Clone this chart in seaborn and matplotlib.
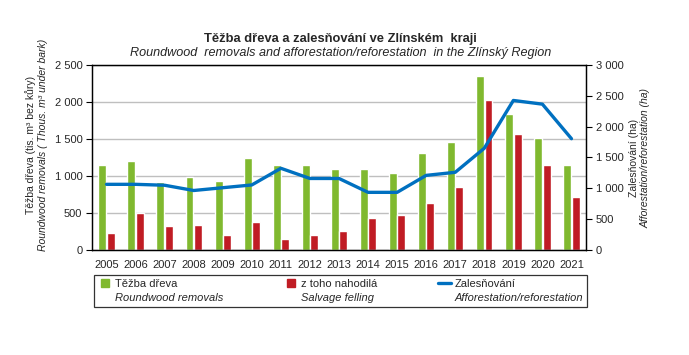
import matplotlib
matplotlib.use('Agg')
import numpy as np
import pandas as pd
import seaborn as sns
import matplotlib.pyplot as plt
from matplotlib.lines import Line2D
from matplotlib.ticker import MultipleLocator, FuncFormatter

years = [str(y) for y in range(2005, 2022)]
# roundwood removals, thous. m3 under bark
removals = [1150, 1200, 920, 985, 930, 1240, 1150, 1150, 1095, 1095,
            1040, 1310, 1460, 2350, 1835, 1510, 1150]
# of which salvage felling
salvage = [230, 500, 325, 335, 200, 380, 150, 200, 255, 430,
           470, 635, 850, 2025, 1565, 1150, 715]
# afforestation/reforestation, ha
afforestation = [1065, 1065, 1050, 965, 1010, 1055, 1325, 1160, 1160, 935,
                 935, 1210, 1260, 1650, 2425, 2365, 1805]

GREEN = '#80B92F'
RED = '#C01C24'
BLUE = '#0070C0'

df = pd.DataFrame({'year': years, 'removals': removals, 'salvage': salvage,
                   'afforestation': afforestation})
long_df = df.melt(id_vars='year', value_vars=['removals', 'salvage'],
                  var_name='series', value_name='value')

sns.set_style('white')
plt.rcParams['font.family'] = ['Liberation Sans', 'DejaVu Sans']
plt.rcParams['font.size'] = 8

fig = plt.figure(figsize=(6.89, 3.55), dpi=100)
ax = fig.add_axes([92 / 689, 1 - 250 / 355, 494 / 689, 185 / 355])

sns.barplot(data=long_df, x='year', y='value', hue='series',
            palette=[GREEN, RED], width=0.58, gap=0.06, saturation=1,
            legend=False, ax=ax)

ax2 = ax.twinx()
sns.lineplot(x=df.index, y=df['afforestation'], color=BLUE, lw=2.4, ax=ax2)

fmt = FuncFormatter(lambda v, p: f'{v:,.0f}'.replace(',', ' '))

ax.set_xlim(-0.5, len(years) - 0.5)
ax.set_ylim(0, 2500)
ax.yaxis.set_major_locator(MultipleLocator(500))
ax.yaxis.set_major_formatter(fmt)
ax.grid(axis='y', color='#BFBFBF', lw=1)
ax.set_axisbelow(True)
ax.set_xlabel('')
ax.set_ylabel('')
ax.set_xticks(np.arange(-0.5, len(years)), minor=True)
ax.tick_params(axis='x', which='major', length=0, pad=7, labelsize=8)
ax.tick_params(axis='x', which='minor', length=4, width=0.8, color='black', direction='out')
ax.tick_params(axis='y', length=4, width=0.8, color='black', direction='out',
               left=True, pad=3, labelsize=8)

ax2.set_ylim(0, 3000)
ax2.yaxis.set_major_locator(MultipleLocator(500))
ax2.yaxis.set_major_formatter(fmt)
ax2.set_ylabel('')
ax2.tick_params(axis='y', length=4, width=0.8, color='black', direction='out',
                right=True, pad=3, labelsize=8)

for a in (ax, ax2):
    for s in a.spines.values():
        s.set_color('black')
        s.set_linewidth(0.9)

fig.text(0.494, 1 - 39 / 355, 'Těžba dřeva a zalesňování ve Zlínském  kraji',
         ha='center', va='center', fontsize=9.3, fontweight='bold')
fig.text(0.494, 1 - 53 / 355,
         'Roundwood  removals and afforestation/reforestation  in the Zlínský Region',
         ha='center', va='center', fontsize=9.1, style='italic')

fig.text(31 / 689, 1 - 145 / 355, 'Těžba dřeva (tis. m³ bez kůry)',
         rotation=90, ha='center', va='center', fontsize=7.5)
fig.text(43 / 689, 1 - 145 / 355, 'Roundwood removals ( Thous. m³ under bark)',
         rotation=90, ha='center', va='center', fontsize=7.5, style='italic')
fig.text(634 / 689, 1 - 158 / 355, 'Zalesňování (ha)',
         rotation=90, ha='center', va='center', fontsize=7.5)
fig.text(646 / 689, 1 - 158 / 355, 'Afforestation/reforestation (ha)',
         rotation=90, ha='center', va='center', fontsize=7.5, style='italic')

blank = Line2D([], [], linestyle='none')
handles = [Line2D([], [], marker='s', linestyle='none', color=GREEN, markersize=5.5), blank,
           Line2D([], [], marker='s', linestyle='none', color=RED, markersize=5.5), blank,
           Line2D([], [], color=BLUE, lw=2.4), blank]
labels = ['Těžba dřeva', 'Roundwood removals',
          'z toho nahodilá', 'Salvage felling',
          'Zalesňování', 'Afforestation/reforestation']
leg = fig.legend(handles, labels, ncol=3, mode='expand',
                 bbox_to_anchor=(94 / 689, 1 - 307 / 355, 493 / 689, 34 / 355),
                 loc='lower left', frameon=True, fancybox=False, fontsize=8,
                 handlelength=1.2, handletextpad=0.3, labelspacing=0.35,
                 borderpad=0.35, borderaxespad=0, columnspacing=1.0)
leg.get_frame().set_edgecolor('black')
leg.get_frame().set_linewidth(0.9)
for i, t in enumerate(leg.get_texts()):
    if i % 2 == 1:
        t.set_style('italic')

fig.savefig('out.png', dpi=100)
